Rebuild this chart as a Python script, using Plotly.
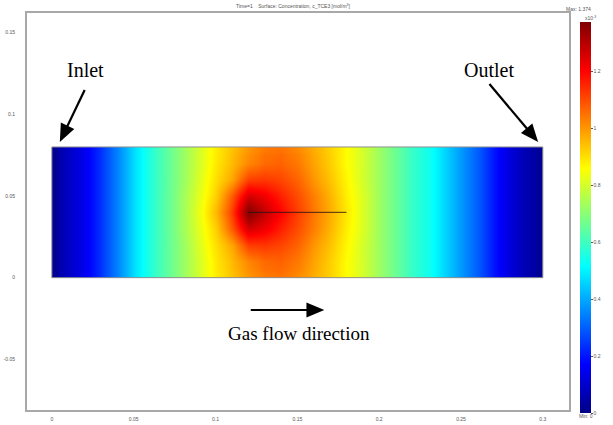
import math
import plotly.graph_objects as go

# Grid nodes (m)
x_nodes = [0.00, 0.01, 0.02, 0.03, 0.04, 0.05, 0.06, 0.07, 0.08, 0.09, 0.10,
           0.11, 0.12, 0.13, 0.14, 0.15, 0.16, 0.17, 0.18, 0.19, 0.20,
           0.21, 0.22, 0.23, 0.24, 0.25, 0.26, 0.27, 0.28, 0.29, 0.30]
y_nodes = [0.00, 0.01, 0.02, 0.03, 0.04, 0.05, 0.06, 0.07, 0.08]

# Concentration c_TCE3 (x10^-3 mol/m^3)
row_edge = [0.02, 0.09, 0.15, 0.24, 0.35, 0.47, 0.56, 0.64, 0.72, 0.80, 0.88,
            0.94, 1.00, 1.04, 1.05, 1.02, 0.97, 0.92, 0.86, 0.80, 0.73,
            0.66, 0.59, 0.54, 0.46, 0.38, 0.30, 0.20, 0.12, 0.06, 0.02]
row_near1 = [0.02, 0.09, 0.15, 0.24, 0.35, 0.47, 0.56, 0.64, 0.72, 0.80, 0.885,
             0.95, 1.02, 1.06, 1.07, 1.04, 0.98, 0.925, 0.86, 0.80, 0.73,
             0.66, 0.59, 0.54, 0.46, 0.38, 0.30, 0.20, 0.12, 0.06, 0.02]
row_near2 = [0.02, 0.09, 0.15, 0.24, 0.35, 0.47, 0.56, 0.64, 0.72, 0.81, 0.90,
             0.98, 1.12, 1.13, 1.11, 1.07, 1.00, 0.94, 0.87, 0.80, 0.73,
             0.66, 0.59, 0.54, 0.46, 0.38, 0.30, 0.20, 0.12, 0.06, 0.02]
row_near3 = [0.02, 0.09, 0.15, 0.24, 0.35, 0.47, 0.56, 0.64, 0.73, 0.82, 0.92,
             1.08, 1.26, 1.22, 1.16, 1.10, 1.03, 0.96, 0.88, 0.81, 0.73,
             0.66, 0.59, 0.54, 0.46, 0.38, 0.30, 0.20, 0.12, 0.06, 0.02]
row_source = [0.02, 0.09, 0.15, 0.24, 0.35, 0.47, 0.56, 0.64, 0.73, 0.83, 0.95,
              1.12, 1.374, 1.28, 1.20, 1.12, 1.04, 0.97, 0.89, 0.81, 0.73,
              0.66, 0.59, 0.54, 0.46, 0.38, 0.30, 0.20, 0.12, 0.06, 0.02]
conc = [row_edge, row_near1, row_near2, row_near3, row_source,
        row_near3, row_near2, row_near1, row_edge]

c_min = 0.0
c_max = 1.374

# Source line (m)
src_x = [0.12, 0.18]
src_y = [0.04, 0.04]

x_ticks = [0, 0.05, 0.1, 0.15, 0.2, 0.25, 0.3]
y_ticks = [-0.05, 0, 0.05, 0.1, 0.15]
cb_ticks = [0, 0.2, 0.4, 0.6, 0.8, 1, 1.2]

# Layout geometry (pixels)
W, H = 613, 425
ML, MR, MT, MB = 27, 41, 13, 15
XR = [-0.0152, 0.316]
YR = [-0.081, 0.162]
PW, PH = W - ML - MR, H - MT - MB


def xd(px):
    return XR[0] + (px - ML) / PW * (XR[1] - XR[0])


def yd(py):
    return YR[1] - (py - MT) / PH * (YR[1] - YR[0])


def edges(nodes):
    mids = [(a + b) / 2 for a, b in zip(nodes[:-1], nodes[1:])]
    return [nodes[0]] + mids + [nodes[-1]]


jet = [[0.0, "rgb(0,0,135)"], [0.125, "rgb(0,0,255)"], [0.375, "rgb(0,255,255)"],
       [0.625, "rgb(255,255,0)"], [0.875, "rgb(255,0,0)"], [1.0, "rgb(128,0,0)"]]

small = dict(family="Liberation Sans, Arial, sans-serif", size=5, color="#555555")
serif = dict(family="Liberation Serif, Times New Roman, serif", size=20, color="black")

fig = go.Figure()
fig.add_trace(go.Heatmap(
    x=edges(x_nodes), y=edges(y_nodes), z=conc,
    zmin=c_min, zmax=c_max, zsmooth="best", colorscale=jet,
    hoverinfo="skip",
    colorbar=dict(
        x=(583 - ML) / PW, xanchor="left", xpad=0,
        y=(H - MB - 217.5) / PH, yanchor="middle", ypad=0,
        len=391, lenmode="pixels", thickness=11, outlinewidth=0,
        tickvals=cb_ticks, ticktext=[str(v) for v in cb_ticks],
        ticks="outside", ticklen=2, tickcolor="#555555", tickfont=small,
    ),
))
fig.add_trace(go.Scatter(x=src_x, y=src_y, mode="lines",
                         line=dict(color="rgba(40,20,20,0.85)", width=1),
                         hoverinfo="skip", showlegend=False))

fig.add_shape(type="rect", x0=x_nodes[0], x1=x_nodes[-1], y0=y_nodes[0], y1=y_nodes[-1],
              line=dict(color="#909090", width=1))


def arrow(tail, tip, head_len=18, half_w=7.5, width=2.2):
    (tx, ty), (hx, hy) = tail, tip
    dx, dy = hx - tx, hy - ty
    n = math.hypot(dx, dy)
    ux, uy = dx / n, dy / n
    bx, by = hx - ux * head_len, hy - uy * head_len
    px_, py_ = -uy, ux
    fig.add_shape(type="line", x0=xd(tx), y0=yd(ty), x1=xd(bx + ux * 2), y1=yd(by + uy * 2),
                  line=dict(color="black", width=width))
    p1 = (bx + px_ * half_w, by + py_ * half_w)
    p2 = (bx - px_ * half_w, by - py_ * half_w)
    path = "M{},{} L{},{} L{},{} Z".format(xd(hx), yd(hy), xd(p1[0]), yd(p1[1]),
                                           xd(p2[0]), yd(p2[1]))
    fig.add_shape(type="path", path=path, fillcolor="black", line=dict(width=0))


arrow((85, 90), (60, 142))
arrow((492, 84), (541, 142))
arrow((252, 310), (326, 310))

ann = []
ann.append(dict(x=xd(86), y=yd(70), xref="x", yref="y", text="Inlet", showarrow=False,
                font=serif))
ann.append(dict(x=xd(492), y=yd(70), xref="x", yref="y", text="Outlet", showarrow=False,
                font=serif))
ann.append(dict(x=xd(301), y=yd(333), xref="x", yref="y", text="Gas flow direction",
                showarrow=False, font=dict(serif, size=19)))
ann.append(dict(x=(596 - ML) / PW, y=(H - MB - 4) / PH, xref="paper", yref="paper",
                text="Max: 1.374", showarrow=False, font=small))
ann.append(dict(x=(601 - ML) / PW, y=(H - MB - 13) / PH, xref="paper", yref="paper",
                text="x10<sup>-3</sup>", showarrow=False, font=small))
ann.append(dict(x=(598 - ML) / PW, y=(H - MB - 421) / PH, xref="paper", yref="paper",
                text="Min: 0", showarrow=False, font=small))

fig.update_layout(
    width=W, height=H,
    margin=dict(l=ML, r=MR, t=MT, b=MB),
    paper_bgcolor="white", plot_bgcolor="white",
    showlegend=False,
    title=dict(text="Time=1    Surface: Concentration, c_TCE3 [mol/m<sup>3</sup>]",
               x=293 / W, xanchor="center", y=1 - 6 / H, yanchor="middle", font=small),
    annotations=ann,
    xaxis=dict(range=XR, tickvals=x_ticks, ticktext=[str(v) for v in x_ticks],
               showgrid=False, zeroline=False, showline=True, mirror=True,
               linecolor="#a8a8a8", linewidth=2, ticks="", tickfont=small,
               ticklabelstandoff=3, automargin=False),
    yaxis=dict(range=YR, tickvals=y_ticks, ticktext=[str(v) for v in y_ticks],
               showgrid=False, zeroline=False, showline=True, mirror=True,
               linecolor="#a8a8a8", linewidth=2, ticks="", tickfont=small,
               ticklabelstandoff=9, automargin=False),
)

fig.write_html("out.html")
